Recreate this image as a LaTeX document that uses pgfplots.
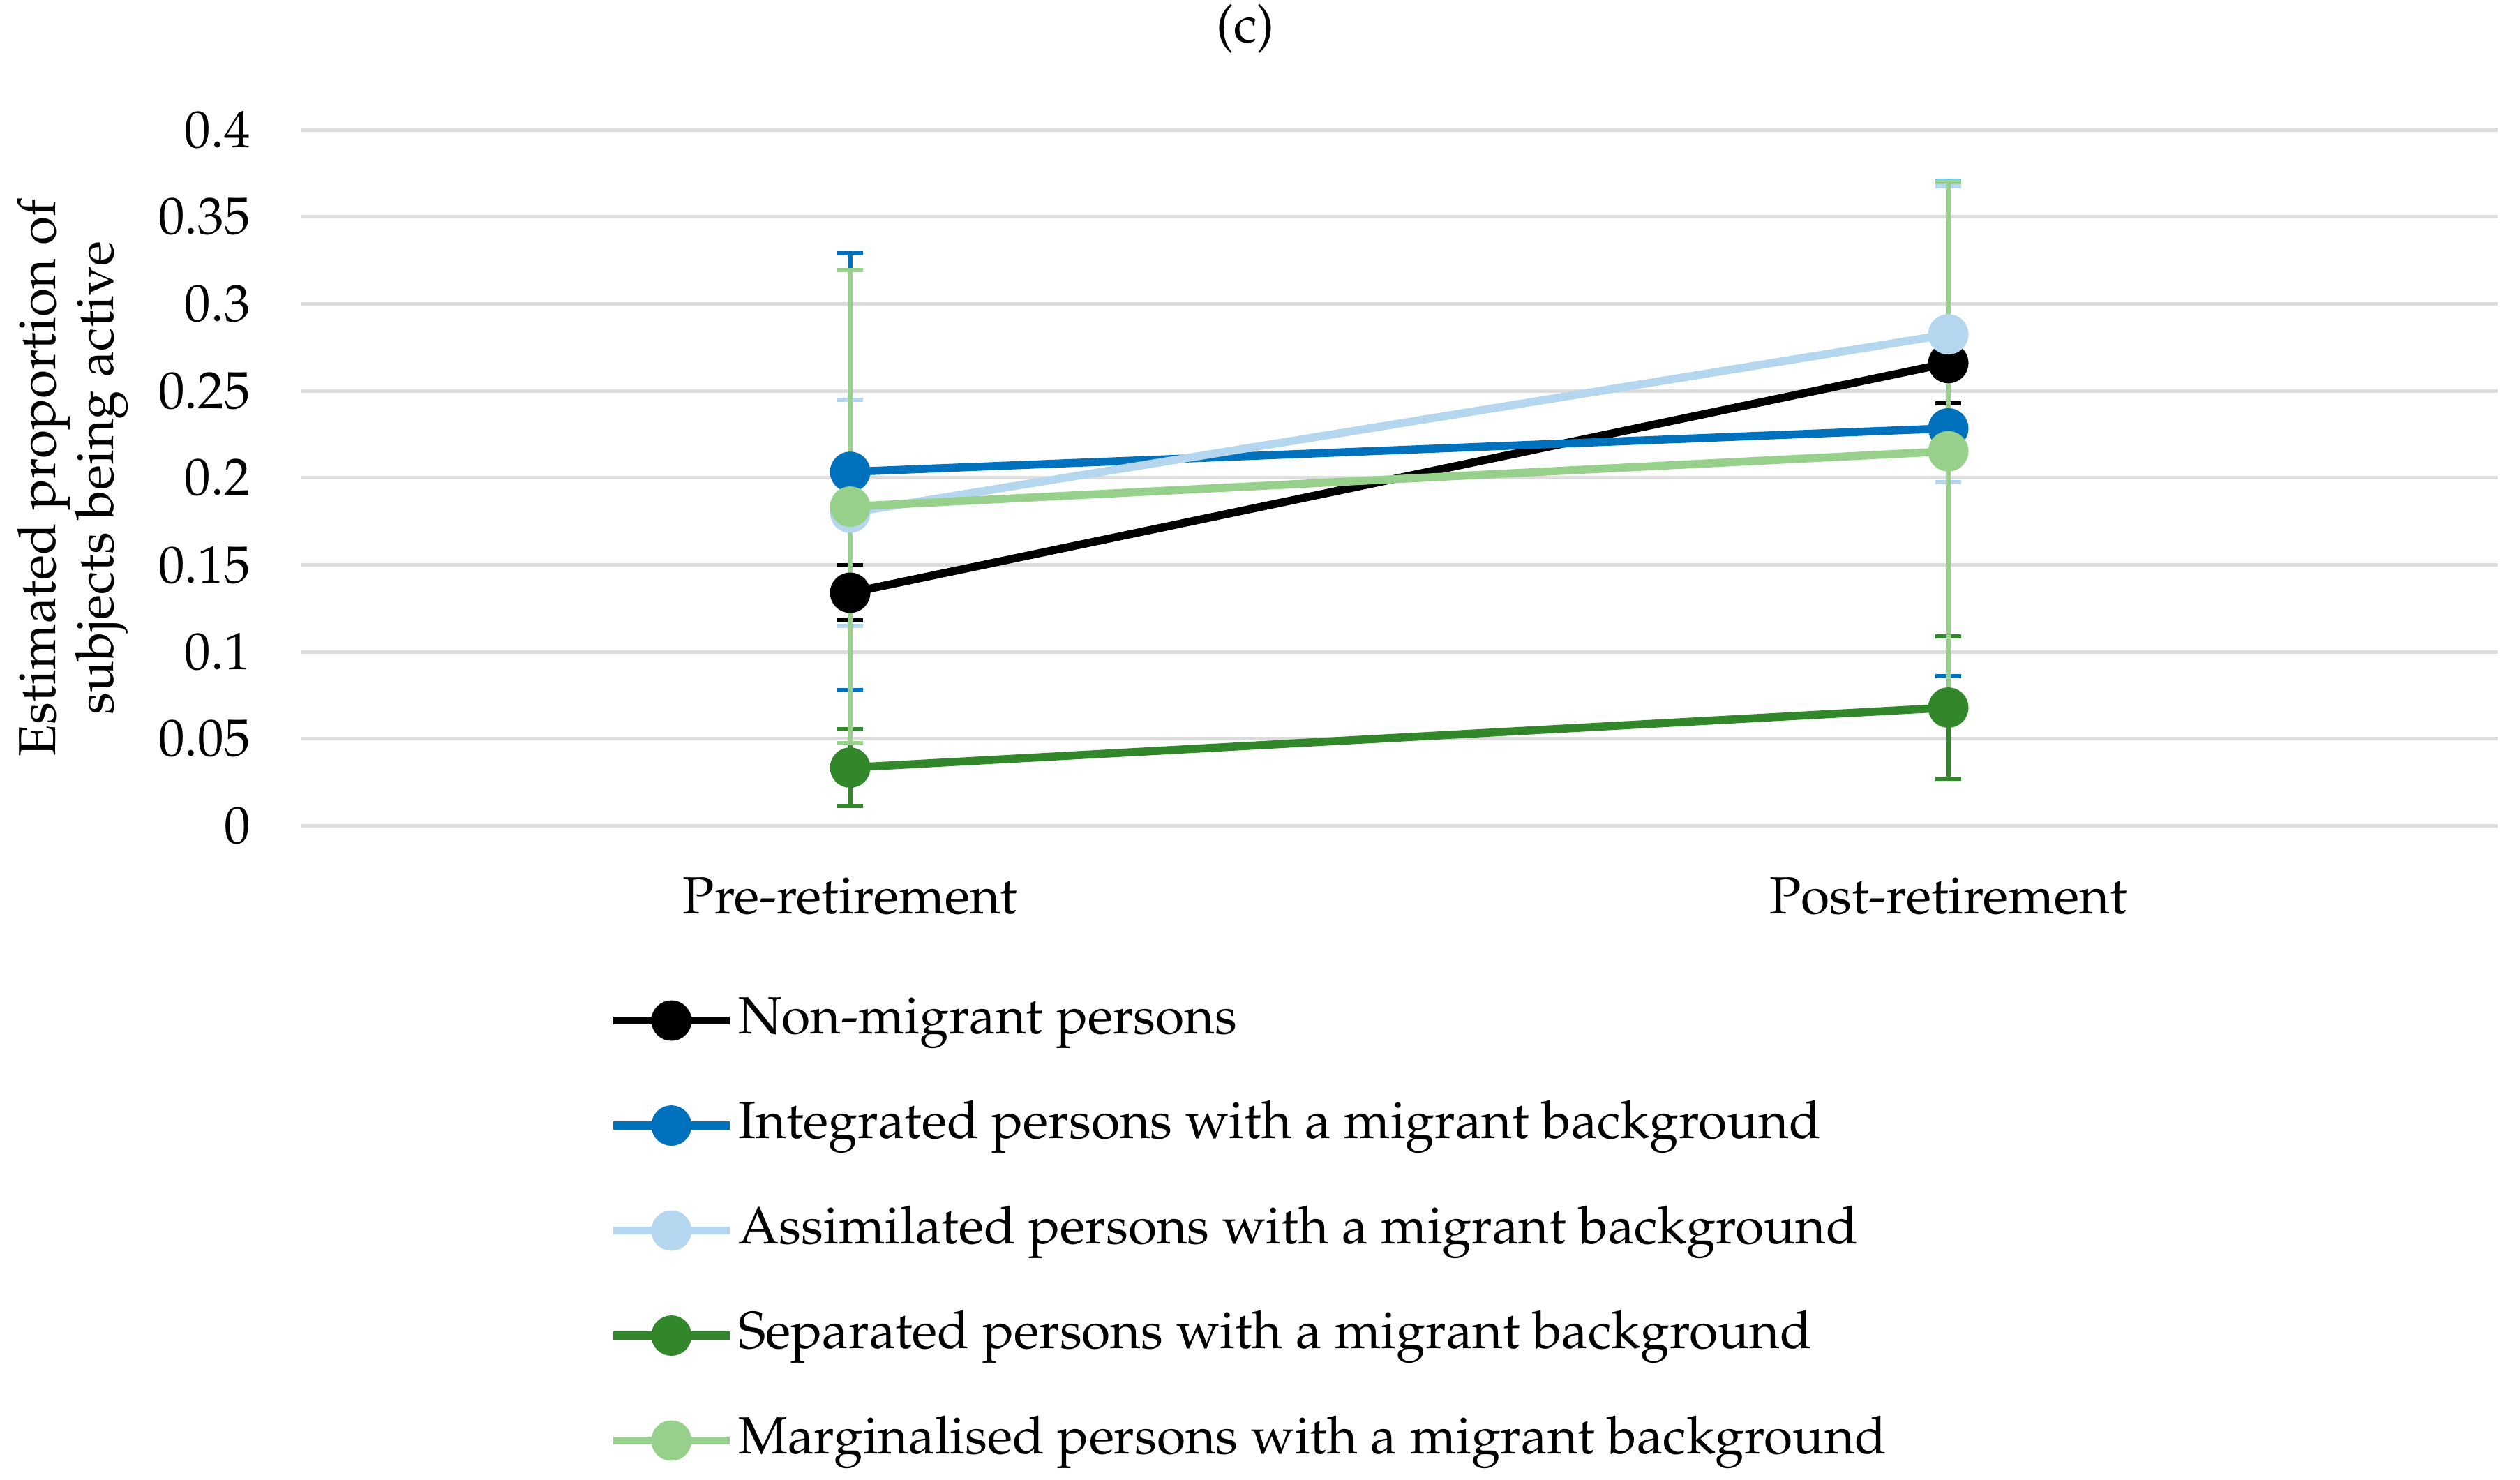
\documentclass[border=0pt]{standalone}
\usepackage[T1]{fontenc}
\usepackage{mathpazo}
\usepackage{pgfplots}
\usepackage{pgfplotstable}
\pgfplotsset{compat=1.18}
\definecolor{cblack}{RGB}{0,0,0}
\definecolor{cblue}{RGB}{0,114,189}
\definecolor{clblue}{RGB}{180,214,238}
\definecolor{cdgreen}{RGB}{50,135,42}
\definecolor{clgreen}{RGB}{150,208,138}
\definecolor{cgrid}{RGB}{220,220,220}

\pgfplotstableread{
x y e
0 0.134 0.016
1 0.266 0.023
}\nonmig
\pgfplotstableread{
x y e
0 0.2035 0.1255
1 0.2285 0.1425
}\integ
\pgfplotstableread{
x y e
0 0.180 0.065
1 0.2825 0.085
}\assim
\pgfplotstableread{
x y e
0 0.0335 0.022
1 0.068 0.041
}\separ
\pgfplotstableread{
x y e
0 0.1835 0.136
1 0.2153 0.155
}\margin

\begin{document}
\begin{tikzpicture}[font=\fontsize{16.2}{18}\selectfont]
\useasboundingbox (0,0) rectangle (780pt,458pt);
\begin{axis}[
  at={(93.2pt,202.4pt)}, anchor=south west,
  scale only axis, width=679.8pt, height=215.4pt,
  xmin=-0.5, xmax=1.5, ymin=0, ymax=0.4,
  xtick={0,1}, xticklabels={Pre-retirement,Post-retirement},
  ytick={0,0.05,0.1,0.15,0.2,0.25,0.3,0.35,0.4},
  scaled y ticks=false,
  yticklabel style={/pgf/number format/fixed,/pgf/number format/precision=2,xshift=-12.2pt},
  xticklabel style={yshift=-12.5pt},
  major tick length=0pt,
  axis line style={draw=none},
  ymajorgrids, grid style={cgrid, line width=1.1pt},
  ylabel={Estimated proportion of\\subjects being active},
  ylabel style={align=center, at={(axis description cs:-0.104,0.5)}, anchor=center},
  title={(c)},
  title style={at={(axis description cs:0.43,1.145)}, anchor=center, yshift=-6pt},
  clip=false,
  legend style={at={(axis description cs:0.14,-0.2346)}, anchor=north west,
    draw=none, fill=none, inner sep=0pt, row sep=13.5pt,
    nodes={inner sep=1.5pt, text height=12pt, text depth=4pt},
    cells={anchor=west}},
  legend image code/.code={
    \draw[mark repeat=2,mark phase=2,#1] plot coordinates {(0pt,0pt) (18pt,0pt) (36pt,0pt)};
  },
  ebar/.style={only marks, mark=none, forget plot,
    error bars/.cd, y dir=both, y explicit,
    error bar style={line width=1.6pt},
    error mark options={rotate=90, line width=1.25pt, mark size=4pt}},
  ser/.style={line width=2.5pt, mark=*, mark size=5pt, mark options={solid, fill=#1, draw=#1}, color=#1},
]
% error bars (series order)
\addplot[cblack, ebar] table[x=x,y=y,y error=e]{\nonmig};
\addplot[cblue, ebar] table[x=x,y=y,y error=e]{\integ};
\addplot[clblue, ebar] table[x=x,y=y,y error=e]{\assim};
\addplot[cdgreen, ebar] table[x=x,y=y,y error=e]{\separ};
\addplot[clgreen, ebar] table[x=x,y=y,y error=e]{\margin};
% lines
\addplot[ser=cblack] table[x=x,y=y]{\nonmig};
\addlegendentry{Non-migrant persons}
\addplot[ser=cblue] table[x=x,y=y]{\integ};
\addlegendentry{Integrated persons with a migrant background}
\addplot[ser=clblue] table[x=x,y=y]{\assim};
\addlegendentry{Assimilated persons with a migrant background}
\addplot[ser=cdgreen] table[x=x,y=y]{\separ};
\addlegendentry{Separated persons with a migrant background}
\addplot[ser=clgreen] table[x=x,y=y]{\margin};
\addlegendentry{Marginalised persons with a migrant background}
\end{axis}
\end{tikzpicture}
\end{document}
